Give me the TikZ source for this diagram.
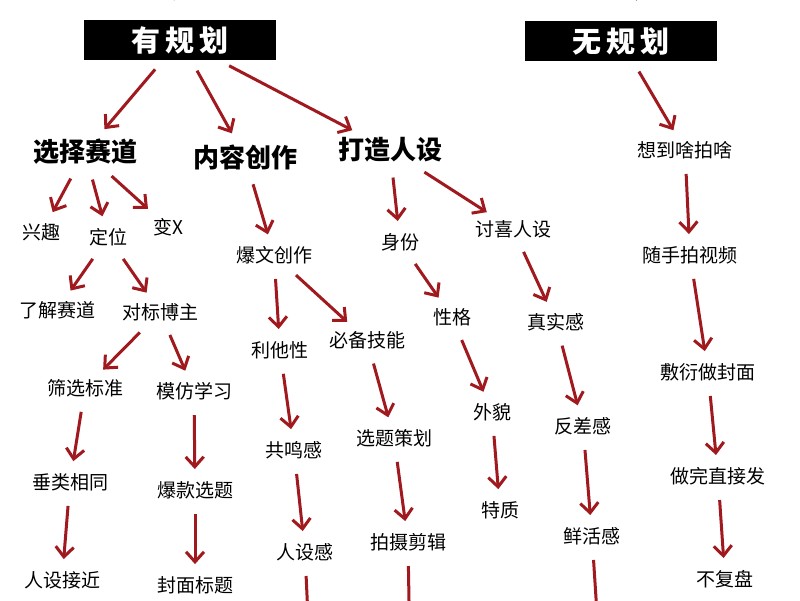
\documentclass[tikz,border=0pt]{standalone}
\usepackage{fontspec}
\setmainfont{Noto Sans CJK SC}
\usetikzlibrary{arrows.meta}
\definecolor{arrowred}{RGB}{160,25,30}
\tikzset{
  item/.style={font=\fontsize{19}{22}\selectfont, inner sep=3pt},
  head/.style={font=\fontsize{26}{29}\selectfont\bfseries, inner sep=3pt},
  banner/.style={fill=black, text=white, minimum width=192pt, minimum height=40pt,
    font=\fontsize{29}{32}\selectfont\bfseries},
  arr/.style={draw=arrowred, line width=3pt, shorten <=12pt, shorten >=9pt,
    -{Straight Barb[length=10pt,width=18pt,line width=3pt]}}
}
\begin{document}
\begin{tikzpicture}[x=1pt,y=-1pt]
    \useasboundingbox (0,0) rectangle (800,600);
    % banners
    \node[banner] (plan) at (180,40) {有\,规\,划};
    \node[banner] (noplan) at (621,41) {无\,规\,划};
    \coordinate (inA) at (165,-30);
    \coordinate (inB) at (625,-30);

    % planned branch
    \node[head] (track) at (85,152) {选择赛道};
    \node[head] (content) at (245,157) {内容创作};
    \node[head] (persona) at (390,150) {打造人设};

    \node[item] (interest) at (42,232) {兴趣};
    \node[item] (position) at (108,237) {定位};
    \node[item] (change) at (168,227) {变X};
    \node[item] (learn) at (57,310) {了解赛道};
    \node[item] (bench) at (160,312) {对标博主};
    \node[item] (filter) at (85,388) {筛选标准};
    \node[item] (imitate) at (194,391) {模仿学习};
    \node[item] (same) at (70,482) {垂类相同};
    \node[item] (hot) at (195,490) {爆款选题};
    \node[item] (near) at (62,580) {人设接近};
    \node[item] (cover) at (195,585) {封面标题};

    \node[item] (viral) at (274,255) {爆文创作};
    \node[item] (altru) at (280,350) {利他性};
    \node[item] (skill) at (367,340) {必备技能};
    \node[item] (reson) at (294,450) {共鸣感};
    \node[item] (topic) at (394,438) {选题策划};
    \node[item] (pfeel) at (305,552) {人设感};
    \node[item] (shoot) at (408,542) {拍摄剪辑};

    \node[item] (ident) at (400,242) {身份};
    \node[item] (likable) at (513,229) {讨喜人设};
    \node[item] (charac) at (452,317) {性格};
    \node[item] (real) at (556,322) {真实感};
    \node[item] (look) at (492,412) {外貌};
    \node[item] (contrast) at (583,426) {反差感};
    \node[item] (trait) at (500,510) {特质};
    \node[item] (vivid) at (592,536) {鲜活感};

    % unplanned branch
    \node[item] (random) at (685,150) {想到啥拍啥};
    \node[item] (casual) at (690,255) {随手拍视频};
    \node[item] (sloppy) at (708,372) {敷衍做封面};
    \node[item] (direct) at (718,476) {做完直接发};
    \node[item] (noreview) at (725,579) {不复盘};

    \coordinate (outA) at (310,660);
    \coordinate (outB) at (410,660);
    \coordinate (outC) at (600,660);
    \coordinate (outD) at (58,660);
    \coordinate (outE) at (728,660);

    % arrows
    \draw[arr, shorten <=0pt] (inA) -- (177,9);
    \draw[arr, shorten <=0pt] (inB) -- (640,9);
    \draw[arr] (plan) -- (track);
    \draw[arr] (plan) -- (content);
    \draw[arr] (plan) -- (persona);
    \draw[arr] (noplan) -- (random);
    \draw[arr] (track) -- (interest);
    \draw[arr] (track) -- (position);
    \draw[arr] (track) -- (change);
    \draw[arr] (position) -- (learn);
    \draw[arr] (position) -- (bench);
    \draw[arr] (bench) -- (filter);
    \draw[arr] (bench) -- (imitate);
    \draw[arr] (filter) -- (same);
    \draw[arr] (imitate) -- (hot);
    \draw[arr] (same) -- (near);
    \draw[arr] (hot) -- (cover);
    \draw[arr] (content) -- (viral);
    \draw[arr] (viral) -- (altru);
    \draw[arr] (viral) -- (skill);
    \draw[arr] (altru) -- (reson);
    \draw[arr] (skill) -- (topic);
    \draw[arr] (reson) -- (pfeel);
    \draw[arr] (topic) -- (shoot);
    \draw[arr] (persona) -- (ident);
    \draw[arr] (persona) -- (likable);
    \draw[arr] (ident) -- (charac);
    \draw[arr] (likable) -- (real);
    \draw[arr] (charac) -- (look);
    \draw[arr] (real) -- (contrast);
    \draw[arr] (look) -- (trait);
    \draw[arr] (contrast) -- (vivid);
    \draw[arr] (random) -- (casual);
    \draw[arr] (casual) -- (sloppy);
    \draw[arr] (sloppy) -- (direct);
    \draw[arr] (direct) -- (noreview);
    \draw[arr, shorten >=0pt] (pfeel) -- (outA);
    \draw[arr, shorten >=0pt] (shoot) -- (outB);
    \draw[arr, shorten >=0pt] (vivid) -- (outC);
    \draw[arr, shorten >=0pt] (near) -- (outD);
    \draw[arr, shorten >=0pt] (noreview) -- (outE);
\end{tikzpicture}
\end{document}
